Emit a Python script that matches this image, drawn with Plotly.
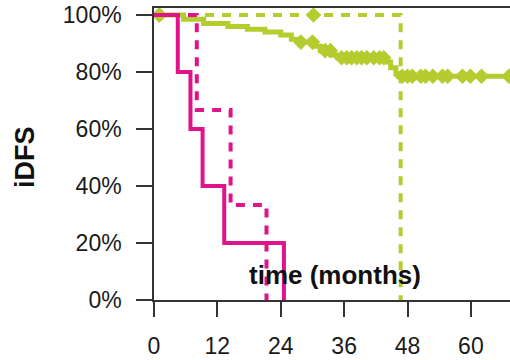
import plotly.graph_objects as go
import numpy as np

# ---------------- data (months, survival fraction) ----------------
pink_solid_t = [0, 4.5, 6.9, 9.2, 13.3, 24.6]
pink_solid_s = [1.0, 0.8, 0.6, 0.4, 0.2, 0.0]

pink_dash_t = [0, 8.1, 14.5, 21.3]
pink_dash_s = [1.0, 0.667, 0.333, 0.0]

green_dash_t = [0, 46.7]
green_dash_s = [1.0, 0.0]
green_dash_censor = [1.0, 30.2]

green_solid_t = [0, 5.6, 9.4, 14.0, 17.7, 21.0, 24.0, 26.0, 27.2, 30.6, 31.5,
                 33.5, 34.8, 44.0, 44.8, 45.8, 46.3, 68.0]
green_solid_s = [1.0, 0.985, 0.97, 0.96, 0.95, 0.94, 0.93, 0.915, 0.905, 0.89,
                 0.875, 0.86, 0.85, 0.835, 0.815, 0.795, 0.785, 0.785]
green_solid_censor = [1.0, 27.8, 30.0, 32.4, 33.4, 35.5, 36.5, 37.4, 38.4, 39.3,
                      40.3, 41.6, 42.7, 43.5, 47.0, 48.0, 48.9, 50.5, 51.4, 52.8,
                      54.6, 55.6, 58.4, 59.9, 62.0, 67.2]

x_ticks = [0, 12, 24, 36, 48, 60]
y_ticks = [0, 0.2, 0.4, 0.6, 0.8, 1.0]
y_tick_text = ["0%", "20%", "40%", "60%", "80%", "100%"]

PINK = "#e0148a"
GREEN = "#b5cc2f"


def step_value(times, surv, t):
    idx = np.searchsorted(times, t, side="right") - 1
    return surv[max(idx, 0)]


fig = go.Figure()

fig.add_trace(go.Scatter(x=green_dash_t, y=green_dash_s, mode="lines", line_shape="hv",
                         line=dict(color=GREEN, width=4, dash="9px,8px"), showlegend=False))
fig.add_trace(go.Scatter(x=green_dash_censor,
                         y=[step_value(green_dash_t, green_dash_s, t) for t in green_dash_censor],
                         mode="markers", marker=dict(symbol="diamond", size=12, color=GREEN),
                         showlegend=False, cliponaxis=False))

fig.add_trace(go.Scatter(x=green_solid_t, y=green_solid_s, mode="lines", line_shape="hv",
                         line=dict(color=GREEN, width=5), showlegend=False))
fig.add_trace(go.Scatter(x=green_solid_censor,
                         y=[step_value(green_solid_t, green_solid_s, t) for t in green_solid_censor],
                         mode="markers", marker=dict(symbol="diamond", size=12, color=GREEN),
                         showlegend=False, cliponaxis=False))

fig.add_trace(go.Scatter(x=pink_dash_t, y=pink_dash_s, mode="lines", line_shape="hv",
                         line=dict(color=PINK, width=4, dash="9px,8px"), showlegend=False))
fig.add_trace(go.Scatter(x=pink_solid_t, y=pink_solid_s, mode="lines", line_shape="hv",
                         line=dict(color=PINK, width=4), showlegend=False))

fig.update_layout(
    width=510, height=360,
    margin=dict(l=154, r=0, t=8, b=60),
    paper_bgcolor="white", plot_bgcolor="white",
    font=dict(family="Liberation Sans, Arial, sans-serif", color="#1a1a1a", size=22),
    xaxis=dict(range=[0, 67.4], tickvals=x_ticks, ticks="outside", ticklen=15,
               tickwidth=1.5, tickcolor="#333", showline=True, linecolor="#333",
               linewidth=1.5, mirror=True, showgrid=False, zeroline=False,
               tickfont=dict(size=23), ticklabelstandoff=10, automargin=False),
    yaxis=dict(range=[0, 1.0246], tickvals=y_ticks, ticktext=y_tick_text,
               ticks="outside", ticklen=16, tickwidth=1.5, tickcolor="#333",
               showline=True, linecolor="#333", linewidth=1.5, showgrid=False,
               zeroline=False, tickfont=dict(size=23), ticklabelstandoff=10,
               automargin=False),
    annotations=[
        dict(text="<b>iDFS</b>", xref="paper", yref="paper", x=-0.3624, y=0.49,
             textangle=-90, showarrow=False, font=dict(size=27, color="#111"),
             xanchor="center", yanchor="middle"),
        dict(text="<b>time (months)</b>", xref="x", yref="y", x=34.2, y=0.088,
             showarrow=False, font=dict(size=26, color="#111"),
             xanchor="center", yanchor="middle"),
    ],
)

fig.write_html("out.html", config={"displayModeBar": False},
               post_script="document.body.style.margin='0';document.body.style.overflow='hidden';")
